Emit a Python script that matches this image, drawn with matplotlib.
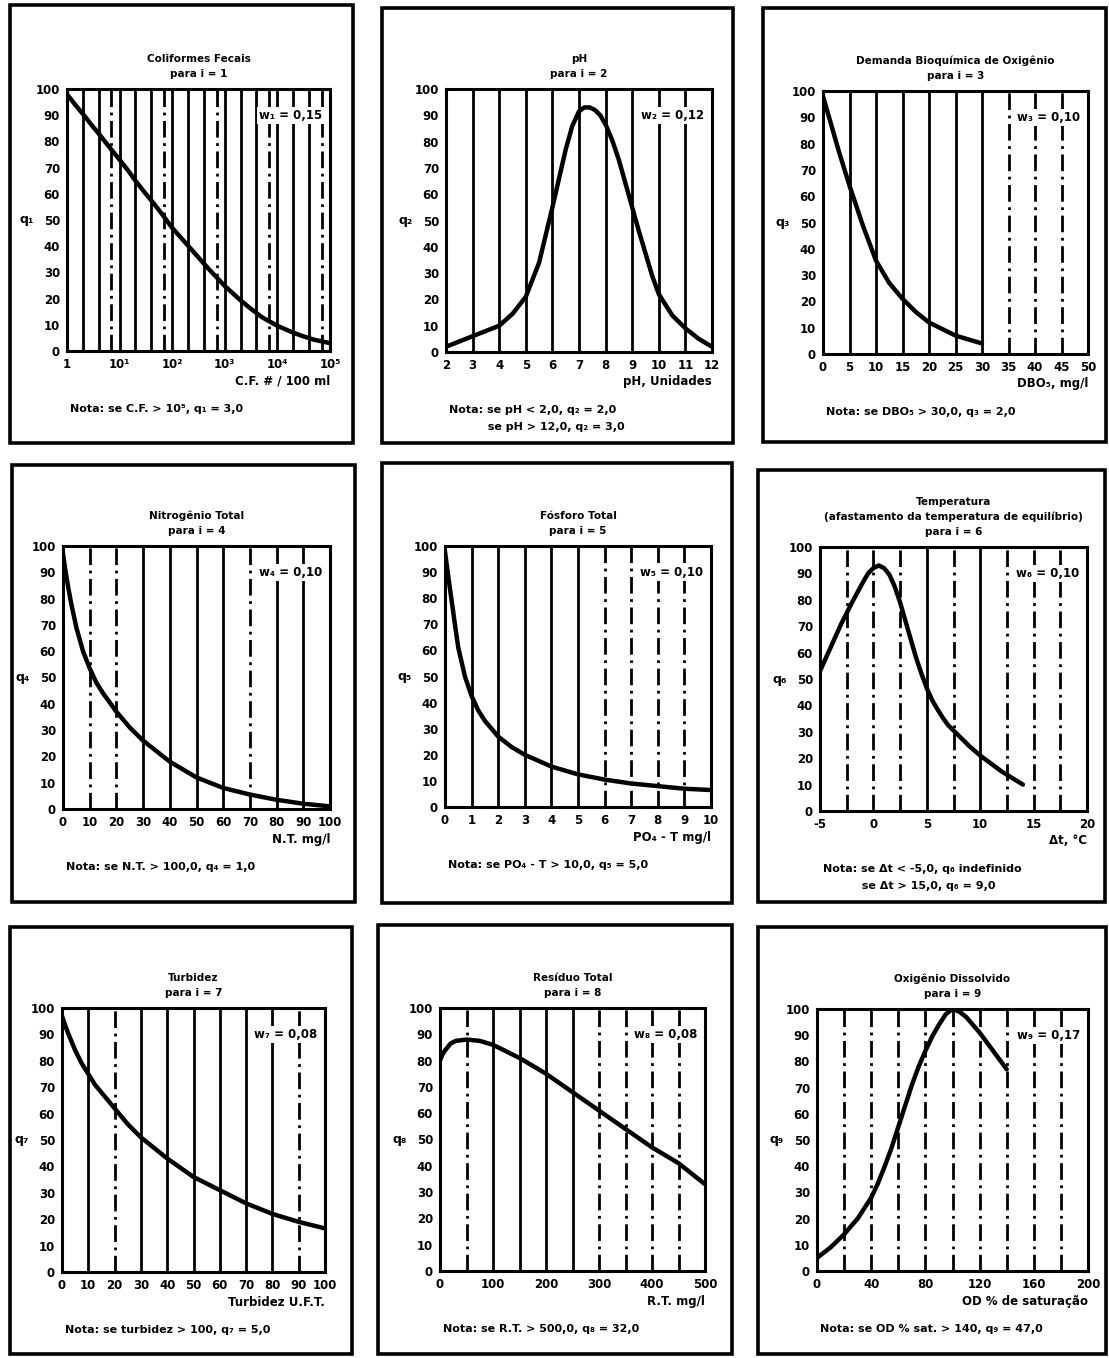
import numpy as np
import matplotlib
matplotlib.use("Agg")
import matplotlib.pyplot as plt
from matplotlib.patches import Rectangle

# ---- curve data (q_i versus parameter) ----
cf_x = [1, 1.5, 2, 3, 4, 6, 10, 15, 20, 30, 40, 60, 100, 200, 300, 500,
        1000, 2000, 3000, 5000, 1e4, 2e4, 3e4, 5e4, 1e5]
cf_q = [98, 93.5, 90.5, 86, 83, 78.5, 73, 68.5, 65, 60.5, 57.5, 53, 47, 40.2,
        36.2, 31.2, 24.8, 19.3, 16.4, 13, 9.6, 7, 5.7, 4.3, 3]

ph_x = [2, 2.5, 3, 3.5, 4, 4.5, 5, 5.5, 6, 6.25, 6.5, 6.75, 7, 7.2, 7.4, 7.6,
        7.8, 8, 8.25, 8.5, 8.75, 9, 9.25, 9.5, 9.75, 10, 10.5, 11, 11.5, 12]
ph_q = [2, 4, 6, 8, 10, 14.5, 21, 34, 55, 66, 77, 86, 91.5, 93, 93, 92,
        90, 86.5, 80.5, 73, 64, 55, 46, 37.5, 29, 22, 14, 9, 5, 2]

dbo_x = [0, 1, 2, 3, 4, 5, 6, 7.5, 10, 12.5, 15, 17.5, 20, 22.5, 25, 27.5, 30]
dbo_q = [98, 91, 84, 77, 70.5, 64, 58, 49, 35.5, 27, 21, 16, 12, 9.5, 7, 5.5, 4]

nt_x = [0, 1, 2, 3, 5, 7.5, 10, 12.5, 15, 20, 25, 30, 40, 50, 60, 70, 80, 90, 100]
nt_q = [97, 90, 84, 78.5, 69, 60, 53.5, 48, 44, 37, 31, 26, 18, 12, 8, 5.5, 3.5, 2, 1]

pt_x = [0, 0.1, 0.25, 0.4, 0.5, 0.75, 1, 1.25, 1.5, 2, 2.5, 3, 4, 5, 6, 7, 8, 9, 10]
pt_q = [98, 90, 79, 68, 61, 50, 42.5, 37, 33, 27, 23, 20, 15.5, 12.5, 10.5, 9, 8, 7, 6.5]

temp_x = [-5, -4, -3, -2, -1, -0.5, 0, 0.5, 1, 1.5, 2, 2.5, 3, 3.5, 4, 4.5,
          5, 5.5, 6, 6.5, 7, 8, 9, 10, 11, 12, 13, 14]
temp_q = [53, 62, 71, 79, 86.5, 90, 92, 93, 92, 89.5, 85, 79, 72, 65, 58, 52,
          46.5, 42, 38.5, 35.3, 32.5, 28.5, 24.5, 21, 18, 15, 12.5, 10]

turb_x = [0, 1, 2.5, 5, 7.5, 10, 12.5, 15, 20, 25, 30, 40, 50, 60, 70, 80, 90, 100]
turb_q = [97, 94, 90, 84, 79, 75, 71, 68, 62, 56, 51, 43, 36, 31, 26, 22, 19, 16.5]

res_x = [0, 5, 10, 20, 30, 50, 75, 100, 150, 200, 250, 300, 350, 400, 450, 500]
res_q = [80, 82.5, 84, 86.5, 87.5, 88, 87.5, 86, 81, 75, 68, 61, 54, 47, 41, 33]

od_x = [0, 5, 10, 15, 20, 25, 30, 35, 40, 45, 50, 55, 60, 65, 70, 75, 80, 85,
        90, 95, 100, 105, 110, 115, 120, 125, 130, 135, 140]
od_q = [5, 7, 9, 11.5, 14, 17, 20, 24, 28, 33.5, 40, 47, 55, 63, 71, 78, 84,
        89.5, 94, 98, 100, 99, 97, 94, 91, 87.5, 84, 80.5, 77]

# ---- texts ----
titles = [
    ["Coliformes Fecais", "para i = 1"],
    ["pH", "para i = 2"],
    ["Demanda Bioquímica de Oxigênio", "para i = 3"],
    ["Nitrogênio Total", "para i = 4"],
    ["Fósforo Total", "para i = 5"],
    ["Temperatura", "(afastamento da temperatura de equilíbrio)", "para i = 6"],
    ["Turbidez", "para i = 7"],
    ["Resíduo Total", "para i = 8"],
    ["Oxigênio Dissolvido", "para i = 9"],
]
weights = ["w₁ = 0,15", "w₂ = 0,12", "w₃ = 0,10", "w₄ = 0,10", "w₅ = 0,10",
           "w₆ = 0,10", "w₇ = 0,08", "w₈ = 0,08", "w₉ = 0,17"]
ylabels = ["q₁", "q₂", "q₃", "q₄", "q₅", "q₆", "q₇", "q₈", "q₉"]
xlabels = ["C.F. # / 100 ml", "pH, Unidades", "DBO₅, mg/l", "N.T. mg/l",
           "PO₄ - T mg/l", "Δt, °C", "Turbidez U.F.T.", "R.T. mg/l",
           "OD % de saturação"]
notes = [
    ["Nota: se C.F. > 10⁵, q₁ = 3,0"],
    ["Nota: se pH < 2,0, q₂ = 2,0", "          se pH > 12,0, q₂ = 3,0"],
    ["Nota: se DBO₅ > 30,0, q₃ = 2,0"],
    ["Nota: se N.T. > 100,0, q₄ = 1,0"],
    ["Nota: se PO₄ - T > 10,0, q₅ = 5,0"],
    ["Nota: se Δt < -5,0, q₆ indefinido", "          se Δt > 15,0, q₆ = 9,0"],
    ["Nota: se turbidez > 100, q₇ = 5,0"],
    ["Nota: se R.T. > 500,0, q₈ = 32,0"],
    ["Nota: se OD % sat. > 140, q₉ = 47,0"],
]
xtick_vals = [
    [1, 10, 100, 1e3, 1e4, 1e5],
    list(range(2, 13)),
    list(range(0, 51, 5)),
    list(range(0, 101, 10)),
    list(range(0, 11)),
    [-5, 0, 5, 10, 15, 20],
    list(range(0, 101, 10)),
    list(range(0, 501, 100)),
    list(range(0, 201, 40)),
]
xtick_labels = [
    ["1", "10¹", "10²", "10³", "10⁴", "10⁵"],
    [str(v) for v in range(2, 13)],
    [str(v) for v in range(0, 51, 5)],
    [str(v) for v in range(0, 101, 10)],
    [str(v) for v in range(0, 11)],
    ["-5", "0", "5", "10", "15", "20"],
    [str(v) for v in range(0, 101, 10)],
    [str(v) for v in range(0, 501, 100)],
    [str(v) for v in range(0, 201, 40)],
]
curves = [(cf_x, cf_q), (ph_x, ph_q), (dbo_x, dbo_q), (nt_x, nt_q), (pt_x, pt_q),
          (temp_x, temp_q), (turb_x, turb_q), (res_x, res_q), (od_x, od_q)]

# ---- layout (pixels) ----
W, H = 1109, 1358
frames = [(10, 5, 353, 443), (382, 8, 733, 443), (763, 8, 1106, 442),
          (12, 465, 355, 902), (382, 463, 732, 903), (758, 470, 1105, 902),
          (10, 927, 352, 1354), (378, 925, 732, 1354), (758, 927, 1106, 1354)]
axboxes = [(67, 89, 330, 351), (446, 89, 712, 352), (823, 91, 1088, 354),
           (63, 546, 330, 809), (445, 546, 711, 807), (820, 547, 1087, 811),
           (62, 1008, 325, 1272), (440, 1008, 705, 1271), (817, 1009, 1088, 1271)]

# vertical rule positions and their line styles
SOL, DD = "-", (0, (6, 2, 1, 2))
cf_rules = [m * 10 ** k for k in range(5) for m in (2, 4, 7, 10)][:-1]
grid_specs = [
    (cf_rules, [SOL, SOL, DD, SOL] * 5),
    (list(range(3, 12)), [SOL] * 9),
    (list(range(5, 50, 5)), [SOL] * 6 + [DD] * 3),
    (list(range(10, 100, 10)), [DD, DD, SOL, SOL, SOL, SOL, DD, SOL, SOL]),
    (list(range(1, 10)), [SOL] * 5 + [DD] * 4),
    ([-2.5, 0, 2.5, 5, 7.5, 10, 12.5, 15, 17.5], [DD, DD, DD, SOL, DD, SOL, DD, DD, DD]),
    (list(range(10, 100, 10)), [SOL, DD, SOL, SOL, SOL, SOL, SOL, SOL, DD]),
    (list(range(50, 500, 50)), [DD, SOL, SOL, SOL, SOL, DD, DD, DD, DD]),
    (list(range(20, 200, 20)), [DD, DD, DD, DD, DD, DD, DD, DD, DD]),
]
xlims = [(1, 1e5), (2, 12), (0, 50), (0, 100), (0, 10), (-5, 20), (0, 100), (0, 500), (0, 200)]

plt.rcParams["font.family"] = ["DejaVu Sans"]
plt.rcParams["font.weight"] = "bold"

fig = plt.figure(figsize=(W / 100, H / 100), dpi=100)
fig.patch.set_facecolor("white")


def fx(px):
    return px / W


def fy(py):
    return 1 - py / H


for i in range(9):
    l, t, r, b = frames[i]
    fig.add_artist(Rectangle((fx(l), fy(b)), fx(r - l), (b - t) / H,
                             transform=fig.transFigure, fill=False,
                             edgecolor="black", linewidth=2.6))

    al, at, ar, ab = axboxes[i]
    ax = fig.add_axes([fx(al), fy(ab), fx(ar - al), (ab - at) / H])
    if i == 0:
        ax.set_xscale("log")
    ax.set_xlim(*xlims[i])
    ax.set_ylim(0, 100)

    # vertical rules
    gx, gs = grid_specs[i]
    for g, s in zip(gx, gs):
        ax.axvline(g, color="black", lw=2.0, ls=s, zorder=1)

    x, q = curves[i]
    ax.plot(x, q, color="black", lw=3.2, solid_capstyle="round",
            solid_joinstyle="round", zorder=3)

    ax.set_xticks(xtick_vals[i])
    ax.set_xticklabels(xtick_labels[i])
    ax.xaxis.set_minor_locator(matplotlib.ticker.NullLocator())
    ax.set_yticks(range(0, 101, 10))
    ax.tick_params(length=0, labelsize=8.5, pad=5)
    for lab in ax.get_xticklabels() + ax.get_yticklabels():
        lab.set_fontweight("bold")
    for sp in ax.spines.values():
        sp.set_linewidth(2.2)

    ax.text(0.97, 0.90, weights[i], transform=ax.transAxes, ha="right",
            va="center", fontsize=8.5, fontweight="bold",
            bbox=dict(facecolor="white", edgecolor="none", pad=1.5), zorder=4)

    # y label
    fig.text(fx(al - 40), fy((at + ab) / 2), ylabels[i], ha="center",
             va="center", fontsize=9, fontweight="bold")
    # x label, right aligned under axis
    fig.text(fx(ar), fy(ab + 30), xlabels[i], ha="right", va="center",
             fontsize=8.5, fontweight="bold")
    # title lines
    cx = (al + ar) / 2
    tl = titles[i]
    n = len(tl)
    for k, line in enumerate(tl):
        off = 15 + 15 * (n - 1 - k)
        fig.text(fx(cx), fy(at - off), line, ha="center", va="center",
                 fontsize=7.5, fontweight="bold")
    # notes
    for k, line in enumerate(notes[i]):
        fig.text(fx(al + 3), fy(ab + 58 + 17 * k), line, ha="left",
                 va="center", fontsize=8, fontweight="bold")

fig.savefig("out.png", dpi=100, facecolor="white")
